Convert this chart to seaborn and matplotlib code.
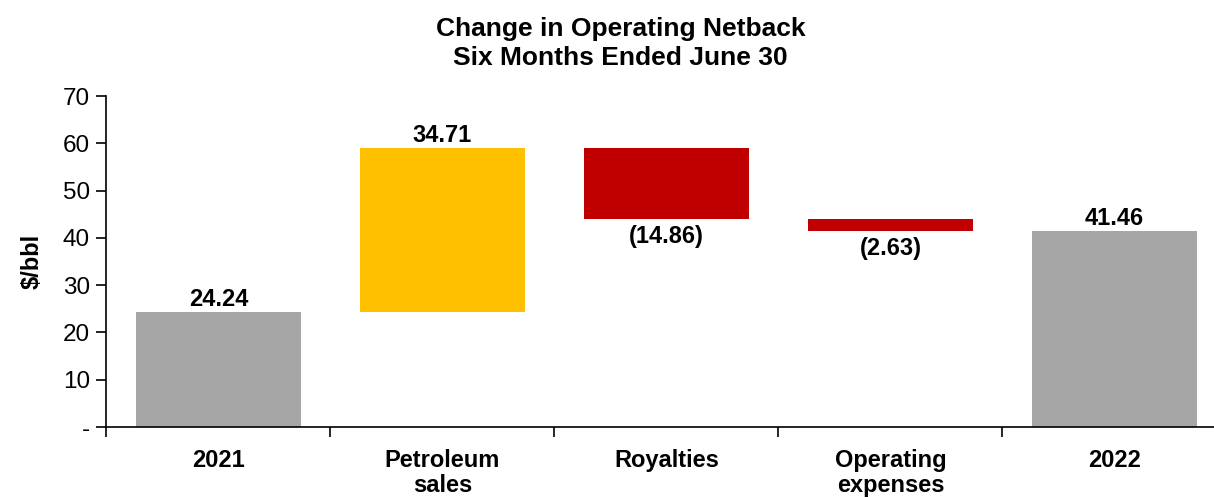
import matplotlib
matplotlib.use("Agg")
import matplotlib.pyplot as plt
import seaborn as sns
import pandas as pd
import numpy as np

# Waterfall data ($/bbl)
categories = ["2021", "Petroleum\nsales", "Royalties", "Operating\nexpenses", "2022"]
changes = [24.24, 34.71, -14.86, -2.63, 41.46]
labels = ["24.24", "34.71", "(14.86)", "(2.63)", "41.46"]
kinds = ["total", "up", "down", "down", "total"]

colors = {"total": "#A6A6A6", "up": "#FFC000", "down": "#C00000"}

# build floating bar bottoms / heights
bottoms, heights = [], []
running = 0.0
for c, k in zip(changes, kinds):
    if k == "total":
        bottoms.append(0.0)
        heights.append(c)
        running = c
    elif c >= 0:
        bottoms.append(running)
        heights.append(c)
        running += c
    else:
        running += c
        bottoms.append(running)
        heights.append(-c)

df = pd.DataFrame({"category": categories, "height": heights, "bottom": bottoms})

sns.set_style("white")
plt.rcParams["font.family"] = ["Liberation Sans", "DejaVu Sans"]
plt.rcParams["text.color"] = "black"
plt.rcParams["xtick.color"] = "black"
plt.rcParams["ytick.color"] = "black"
plt.rcParams["axes.labelcolor"] = "black"

fig = plt.figure(figsize=(12.14, 4.97), dpi=100)
ax = fig.add_axes([0.0877, 0.1408, 0.9226, 0.666])

sns.barplot(data=df, x="category", y="height", color="#A6A6A6",
            bottom=df["bottom"].values, width=0.74, ax=ax, saturation=1,
            linewidth=0)
for patch, k in zip(ax.patches, kinds):
    patch.set_facecolor(colors[k])
    patch.set_edgecolor("none")

for i, (b, h, lab, k) in enumerate(zip(bottoms, heights, labels, kinds)):
    if k == "down":
        ax.text(i, b - 5.1, lab, ha="center", va="baseline", fontsize=17, fontweight="bold")
    else:
        ax.text(i, b + h + 1.25, lab, ha="center", va="baseline", fontsize=17, fontweight="bold")

ax.set_xlim(-0.5, 4.5)
ax.set_ylim(0, 70)
ax.set_yticks(np.arange(0, 71, 10))
ax.set_yticklabels(["-"] + [str(v) for v in range(10, 71, 10)])
ax.set_xticks(np.arange(-0.5, 4.6, 1), minor=True)
ax.tick_params(axis="x", which="major", length=0, pad=16, labelsize=17)
ax.tick_params(axis="x", which="minor", length=7, width=1.2, direction="out", bottom=True)
ax.tick_params(axis="y", length=7, width=1.2, direction="out", left=True, labelsize=17.5, pad=5)
for t in ax.get_xticklabels():
    t.set_fontweight("bold")
    t.set_linespacing(1.12)

ax.set_xlabel("")
ax.set_ylabel("$/bbl", fontsize=17, fontweight="bold", labelpad=14)
ax.spines["top"].set_visible(False)
ax.spines["right"].set_visible(False)
for s in ("left", "bottom"):
    ax.spines[s].set_color("black")
    ax.spines[s].set_linewidth(1.2)

fig.text(0.511, 0.965, "Change in Operating Netback\nSix Months Ended June 30",
         ha="center", va="top", fontsize=19, fontweight="bold", linespacing=1.22)

fig.savefig("out.png", dpi=100)
